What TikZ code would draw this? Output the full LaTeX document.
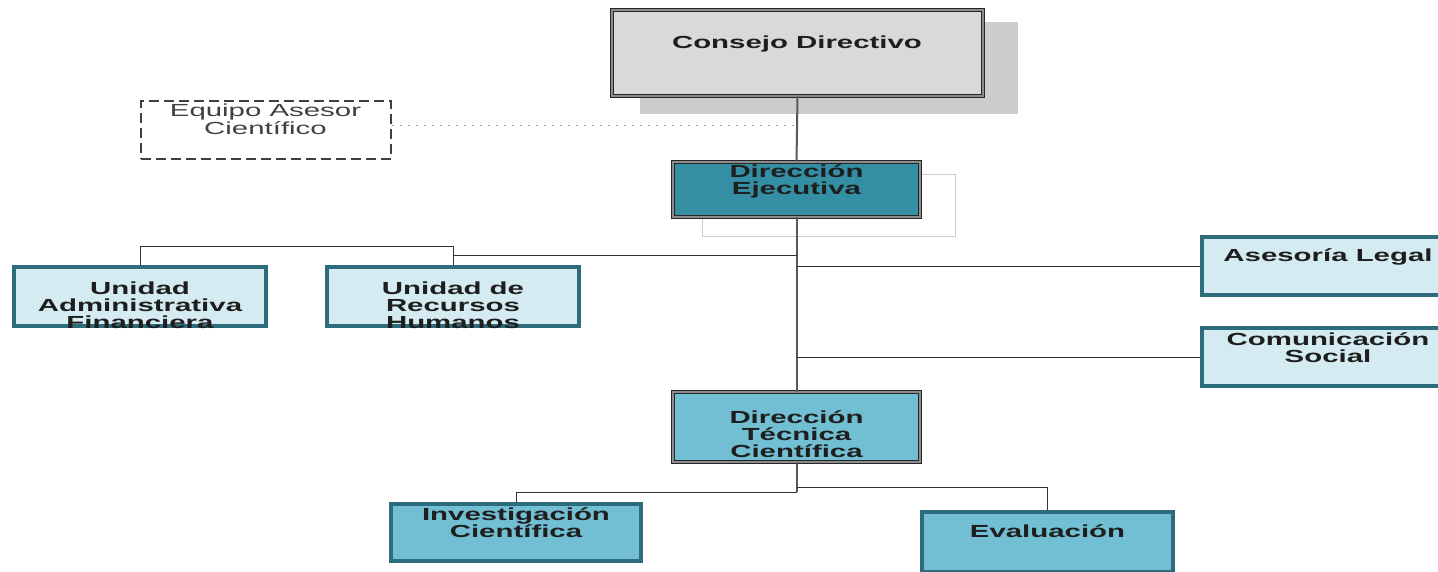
\documentclass[tikz,border=0pt]{standalone}
\usepackage{fontspec}
\setmainfont{Liberation Sans}[FakeStretch=1.68]
\usetikzlibrary{calc}
\definecolor{cdfill}{HTML}{D9D9D9}
\definecolor{shad}{HTML}{CDCDCD}
\definecolor{defill}{HTML}{348FA4}
\definecolor{dtfill}{HTML}{72BED2}
\definecolor{ltfill}{HTML}{D4EBF1}
\definecolor{ltborder}{HTML}{2C6C7C}
\definecolor{txtc}{HTML}{1E1E1E}
\begin{document}
\begin{tikzpicture}[x=1pt,y=-1pt,
 mainbox/.style={draw=black!85, double=black!45, line width=0.9pt, double distance=2pt, inner sep=0pt},
 lbox/.style={draw=ltborder, line width=3.8pt, fill=ltfill, inner sep=0pt},
 lbl/.style={font=\fontsize{17.5}{17}\selectfont\bfseries, text=txtc, align=center, inner sep=0pt},
 rlbl/.style={font=\fontsize{17.5}{18}\selectfont, text=black!75, align=center, inner sep=0pt},
 trunk/.style={draw=black!65, line width=2pt},
 conn/.style={draw=black!80, line width=1pt},
 dotconn/.style={draw=black!40, line width=1pt, dash pattern=on 2pt off 6pt},
]
\useasboundingbox (0,0) rectangle (1438,571);
\fill[white] (0,0) rectangle (1438,571);

% Consejo Directivo
\node[fill=shad, minimum width=378, minimum height=92, inner sep=0pt] (cdshadow) at (829,68) {};
\node[mainbox, fill=cdfill, minimum width=371, minimum height=86] (cd) at (797.5,53) {};
\node[lbl] (cdt) at (797,44) {Consejo Directivo};

% Equipo Asesor
\node[draw=black!75, dash pattern=on 10pt off 5pt, line width=2pt, minimum width=250, minimum height=58, inner sep=0pt] (eq) at (265.5,129.5) {};
\node[rlbl] (eqt) at (265.5,119) {Equipo Asesor\\Científico};

% Direccion Ejecutiva
\node[draw=black!20, line width=0.8pt, minimum width=253, minimum height=62, inner sep=0pt] (debg) at (828.5,205) {};
\node[mainbox, fill=defill, minimum width=247, minimum height=55] (de) at (796.5,189.5) {};
\node[lbl] (det) at (796.5,181) {Dirección\\Ejecutiva};

% Units left
\node[lbox, minimum width=252.5, minimum height=59.5] (uaf) at (140,296.5) {};
\node[lbl] (uaft) at (140,305) {Unidad\\Administrativa\\Financiera};
\node[lbox, minimum width=252.5, minimum height=59.5] (urh) at (453,296.5) {};
\node[lbl] (urht) at (453,305) {Unidad de\\Recursos\\Humanos};

% Right boxes
\node[lbox, minimum width=252, minimum height=58.5] (al) at (1328,266) {};
\node[lbl] (alt) at (1328,257) {Asesoría Legal};
\node[lbox, minimum width=252, minimum height=58.5] (cs) at (1328,357) {};
\node[lbl] (cst) at (1328,348) {Comunicación\\Social};

% Direccion Tecnica
\node[mainbox, fill=dtfill, minimum width=247, minimum height=70] (dtc) at (796.5,427) {};
\node[lbl] (dtct) at (796.5,434) {Dirección\\Técnica\\Científica};

% Bottom boxes
\node[lbox, fill=dtfill, minimum width=250, minimum height=57.5] (ic) at (516,532.5) {};
\node[lbl] (ict) at (516,523) {Investigación\\Científica};
\node[lbox, fill=dtfill, minimum width=251, minimum height=60] (ev) at (1047.5,542) {};
\node[lbl] (evt) at (1047.5,531) {Evaluación};

% Connectors
\draw[dotconn] (eq.east |- 0,125) -- (cd.south |- 0,125);
\draw[trunk] (cd.south) -- (de.north);
\draw[trunk] (de.south) -- (dtc.north);
\draw[trunk] (dtc.south) -- (dtc.south |- 0,492);
\draw[conn] (de.south |- 0,255) -| (urh.north);
\draw[conn] (uaf.north) |- (urh.north |- 0,246) -- (urh.north |- 0,255);
\draw[conn] (de.south |- 0,266) -- (al.west);
\draw[conn] (de.south |- 0,357) -- (cs.west);
\draw[conn] (dtc.south |- 0,492) -| (ic.north);
\draw[conn] (dtc.south |- 0,487) -| (ev.north);
\end{tikzpicture}
\end{document}
